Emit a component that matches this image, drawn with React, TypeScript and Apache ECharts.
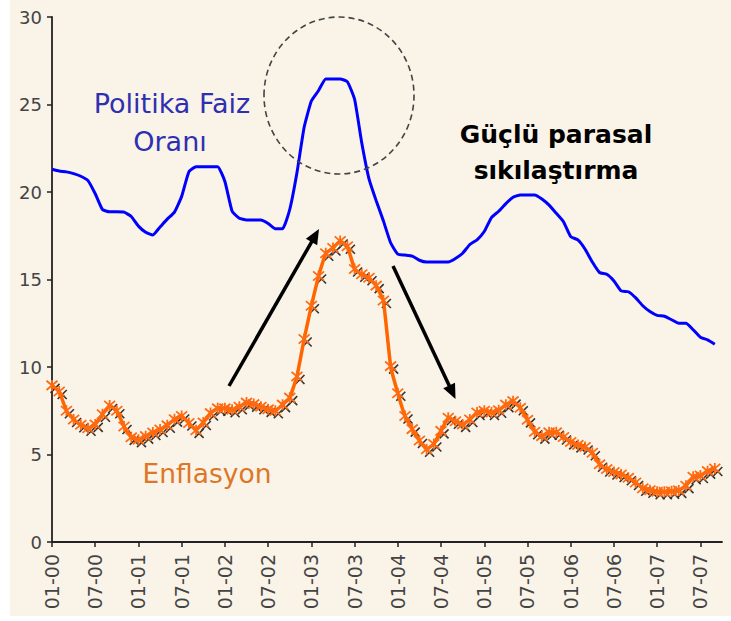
import React, { useEffect, useRef } from "react";
import * as echarts from "echarts";

// Months Jan 2000 .. Oct 2007 (axis runs one month past the last observation)
const categories: string[] = [];
for (let y = 0; y < 8; y++) {
  for (let m = 1; m <= 12; m++) {
    if (categories.length < 94) {
      categories.push(`${String(m).padStart(2, "0")}-${String(y).padStart(2, "0")}`);
    }
  }
}

const policyRate: number[] = [
  21.3, 21.2, 21.15, 21.05, 20.9, 20.65, 19.9, 19.0, 18.87, 18.87, 18.85, 18.6,
  18.05, 17.7, 17.55, 18.0, 18.45, 18.85, 19.75, 21.15, 21.45, 21.45, 21.45, 21.45,
  20.6, 18.9, 18.5, 18.4, 18.4, 18.4, 18.2, 17.9, 17.9, 19.0, 21.1, 23.7,
  25.2, 25.8, 26.46, 26.46, 26.46, 26.3, 25.3, 22.8, 20.75, 19.5, 18.35, 17.1,
  16.45, 16.4, 16.34, 16.1, 16.0, 16.0, 16.0, 16.0, 16.2, 16.5, 17.0, 17.27,
  17.74, 18.54, 18.9, 19.34, 19.7, 19.83, 19.83, 19.83, 19.6, 19.25, 18.78, 18.3,
  17.45, 17.26, 16.73, 16.0, 15.4, 15.3, 14.92, 14.35, 14.3, 13.96, 13.5, 13.17,
  12.95, 12.9, 12.7, 12.5, 12.5, 12.13, 11.7, 11.55, 11.3,
];

const inflation: number[] = [
  8.95, 8.6, 7.5, 7.0, 6.7, 6.5, 6.72, 7.3, 7.8, 7.5, 6.6, 5.98,
  5.85, 6.05, 6.26, 6.43, 6.67, 7.02, 7.2, 6.8, 6.38, 6.83, 7.37, 7.64,
  7.64, 7.56, 7.73, 7.97, 7.88, 7.73, 7.58, 7.5, 7.85, 8.25, 9.46, 11.6,
  13.5, 15.2, 16.5, 16.8, 17.2, 16.9, 15.6, 15.3, 15.1, 14.65, 13.8, 10.05,
  8.5, 7.2, 6.45, 5.8, 5.3, 5.6, 6.35, 7.1, 6.9, 6.72, 7.0, 7.4,
  7.5, 7.4, 7.53, 7.85, 8.05, 7.67, 6.98, 6.3, 6.05, 6.27, 6.27, 6.0,
  5.72, 5.55, 5.43, 5.1, 4.44, 4.17, 4.0, 3.86, 3.67, 3.4, 3.07, 2.96,
  2.87, 2.87, 2.9, 2.95, 3.22, 3.73, 3.8, 4.05, 4.2,
];

const yTicks = { min: 0, max: 30, interval: 5 };

const FONT = '"DejaVu Sans", Verdana, sans-serif';

function arrow(x1: number, y1: number, x2: number, y2: number) {
  const dx = x2 - x1;
  const dy = y2 - y1;
  const len = Math.sqrt(dx * dx + dy * dy);
  const ux = dx / len;
  const uy = dy / len;
  const hl = 15;
  const hw = 6.5;
  const bx = x2 - ux * hl;
  const by = y2 - uy * hl;
  const nx = -uy;
  const ny = ux;
  return [
    {
      type: "line",
      shape: { x1, y1, x2: bx + ux * 2, y2: by + uy * 2 },
      style: { stroke: "#000", lineWidth: 3.5 },
      z: 50,
    },
    {
      type: "polygon",
      shape: {
        points: [
          [x2, y2],
          [bx + nx * hw, by + ny * hw],
          [bx - nx * hw, by - ny * hw],
        ],
      },
      style: { fill: "#000" },
      z: 50,
    },
  ];
}

function txt(text: string, x: number, y: number, font: string, fill: string) {
  return {
    type: "text",
    x,
    y,
    z: 60,
    style: {
      text,
      font,
      fill,
      textAlign: "center",
      textVerticalAlign: "middle",
      align: "center",
      verticalAlign: "middle",
    },
  };
}

export default function App() {
  const ref = useRef<HTMLDivElement>(null);
  useEffect(() => {
    if (!ref.current) return;
    const chart = echarts.init(ref.current, undefined, { renderer: "svg" });
    const starPath = "path://M0 0L10 10M10 0L0 10M5 -1L5 11";
    const xPath = "path://M0 0L10 10M10 0L0 10";
    chart.setOption({
      animation: false,
      backgroundColor: "transparent",
      grid: { left: 52, right: 9, top: 17, bottom: 79, containLabel: false },
      xAxis: {
        type: "category",
        data: categories,
        boundaryGap: false,
        axisLine: { lineStyle: { color: "#222", width: 1.8 } },
        axisTick: { interval: 5, length: 5, lineStyle: { color: "#222", width: 1.5 } },
        axisLabel: {
          interval: 5,
          rotate: 90,
          margin: 12,
          color: "#444",
          fontSize: 19,
          fontFamily: FONT,
        },
        splitLine: { show: false },
      },
      yAxis: {
        type: "value",
        min: yTicks.min,
        max: yTicks.max,
        interval: yTicks.interval,
        axisLine: { show: true, lineStyle: { color: "#222", width: 1.8 } },
        axisTick: { show: true, length: 5, lineStyle: { color: "#222", width: 1.5 } },
        axisLabel: { color: "#444", fontSize: 18, fontFamily: FONT, margin: 10 },
        splitLine: { show: false },
      },
      series: [
        {
          name: "Politika Faiz Oranı",
          type: "line",
          data: policyRate,
          smooth: 0.15,
          showSymbol: false,
          lineStyle: { color: "#0000FF", width: 3 },
          z: 3,
        },
        {
          name: "Enflasyon gölge",
          type: "line",
          data: inflation,
          symbol: xPath,
          symbolSize: 9,
          symbolOffset: [3, 3],
          showAllSymbol: true,
          lineStyle: { width: 0, opacity: 0 },
          itemStyle: { color: "transparent", borderColor: "#333", borderWidth: 1.6 },
          z: 2,
        },
        {
          name: "Enflasyon",
          type: "line",
          data: inflation,
          smooth: 0.08,
          symbol: starPath,
          symbolSize: 11,
          showAllSymbol: true,
          lineStyle: { color: "#FF6600", width: 3.5 },
          itemStyle: { color: "transparent", borderColor: "#FF6A10", borderWidth: 1.8 },
          z: 4,
        },
      ],
      graphic: [
        {
          type: "ellipse",
          shape: { cx: 339, cy: 95.5, rx: 75, ry: 78.5 },
          style: { fill: "none", stroke: "#444", lineWidth: 1.6, lineDash: [6, 4] },
          z: 40,
        },
        ...arrow(229, 386, 319, 229),
        ...arrow(393, 266, 455.5, 399),
        txt("Politika Faiz", 172, 103, `27px ${FONT}`, "#2F2FB2"),
        txt("Oranı", 170, 141, `27px ${FONT}`, "#2F2FB2"),
        txt("Güçlü parasal", 556, 134, `bold 25px ${FONT}`, "#000"),
        txt("sıkılaştırma", 556, 170, `bold 25px ${FONT}`, "#000"),
        txt("Enflasyon", 207, 473, `26.5px ${FONT}`, "#DE7626"),
      ],
    });
    return () => chart.dispose();
  }, []);

  return (
    <div
      style={{
        position: "fixed",
        left: 0,
        top: 0,
        width: 731,
        height: 621,
        background: "#ffffff",
      }}
    >
      <div
        style={{
          position: "absolute",
          left: 10,
          top: 0,
          width: 721,
          height: 616,
          background: "#F9F3E8",
        }}
      />
      <div ref={ref} style={{ position: "absolute", left: 0, top: 0, width: 731, height: 621 }} />
    </div>
  );
}
